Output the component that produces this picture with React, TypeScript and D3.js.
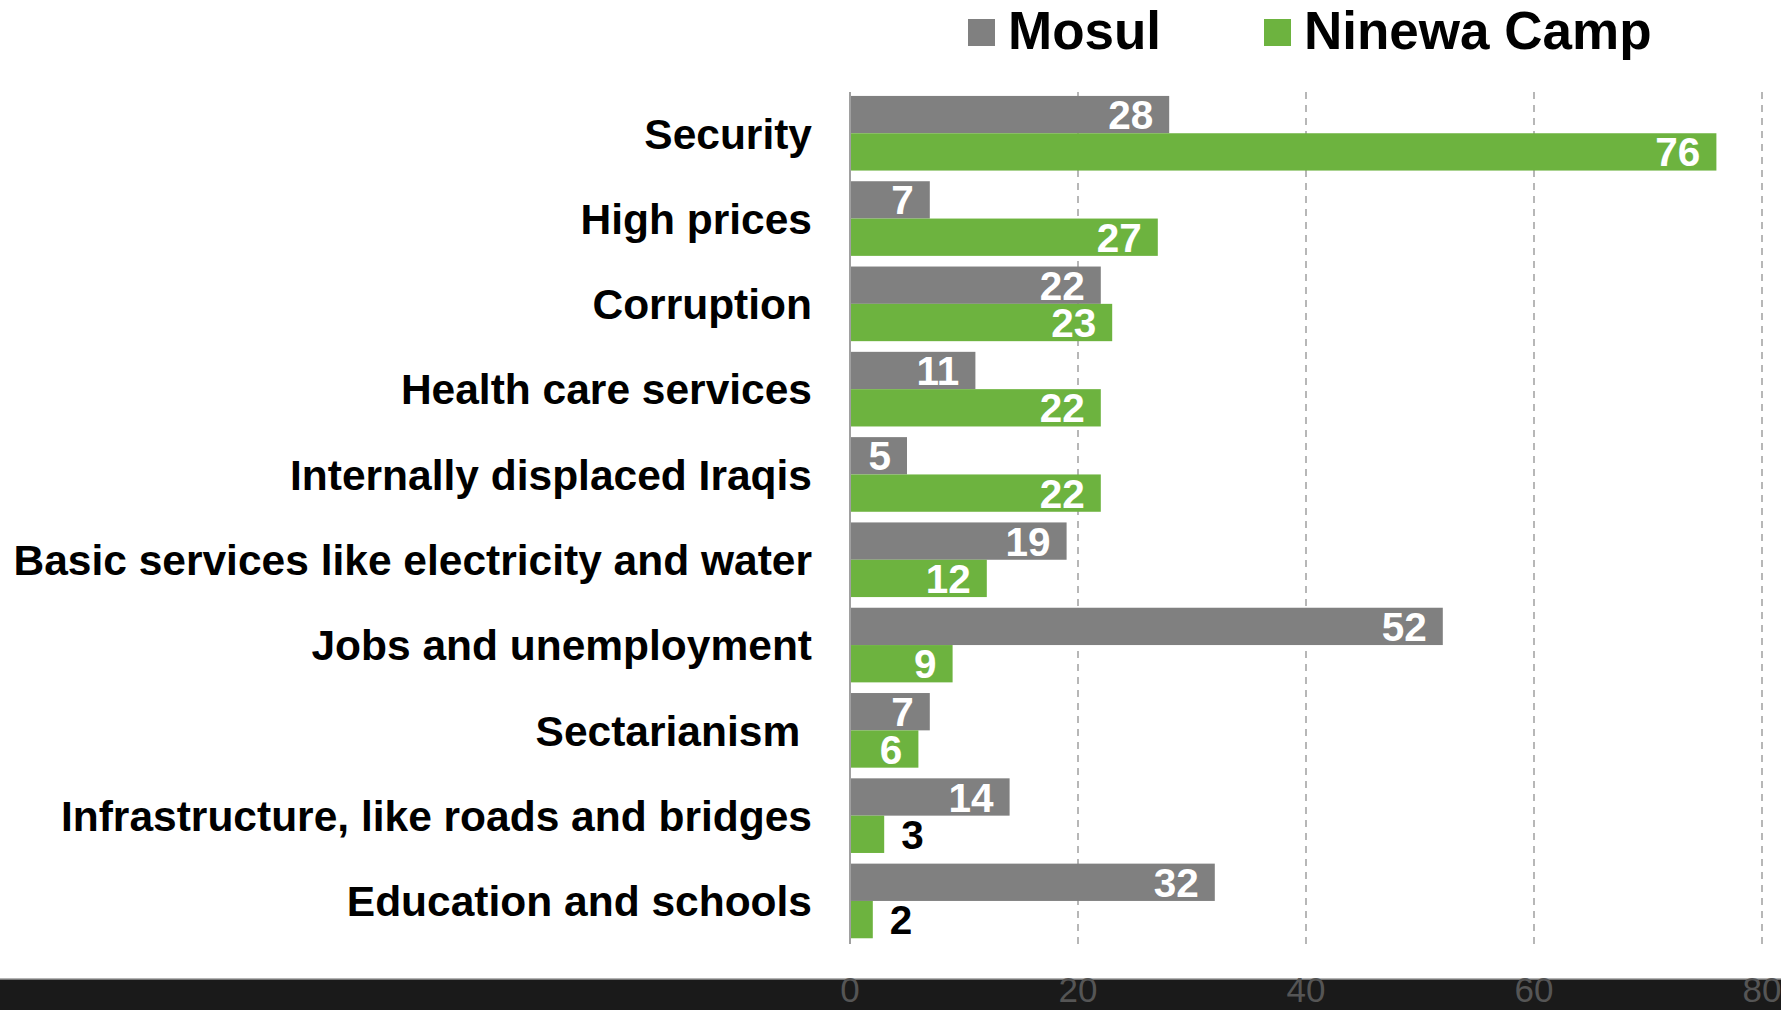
import React from "react";
import * as d3 from "d3";

const categories = [
  "Security",
  "High prices",
  "Corruption",
  "Health care services",
  "Internally displaced Iraqis",
  "Basic services like electricity and water",
  "Jobs and unemployment",
  "Sectarianism ",
  "Infrastructure, like roads and bridges",
  "Education and schools",
];
const mosul = [28, 7, 22, 11, 5, 19, 52, 7, 14, 32];
const ninewa = [76, 27, 23, 22, 22, 12, 9, 6, 3, 2];
const seriesNames = ["Mosul", "Ninewa Camp"];
const seriesColors = ["#808080", "#6db33f"];
const xTicks = [0, 20, 40, 60, 80];

const W = 1781;
const H = 1010;
const FONT = "'Liberation Sans', Arial, sans-serif";

export default function App() {
  const x = d3.scaleLinear().domain([0, 80]).range([850, 1762]);
  const y = d3
    .scaleBand<string>()
    .domain(categories)
    .range([90.6, 943.6])
    .paddingInner(0.125)
    .paddingOuter(0.0625);
  const sub = d3
    .scaleBand<string>()
    .domain(seriesNames)
    .range([0, y.bandwidth()]);

  const series = [mosul, ninewa];

  return (
    <svg
      width={W}
      height={H}
      style={{ position: "absolute", left: 0, top: 0, background: "#fff" }}
      fontFamily={FONT}
    >
      <rect x={0} y={0} width={W} height={H} fill="#fff" />
      {/* gridlines */}
      {xTicks.slice(1).map((t) => (
        <line
          key={t}
          x1={x(t)}
          x2={x(t)}
          y1={92}
          y2={944}
          stroke="#a6a6a6"
          strokeWidth={1.6}
          strokeDasharray="7,6"
        />
      ))}
      {/* bars */}
      {categories.map((c, i) => (
        <g key={c}>
          {series.map((vals, s) => {
            const v = vals[i];
            const by = (y(c) as number) + (sub(seriesNames[s]) as number);
            const bh = sub.bandwidth();
            const bw = x(v) - x(0);
            const inside = bw >= 40;
            return (
              <g key={s}>
                <rect
                  x={x(0)}
                  y={by}
                  width={bw}
                  height={bh}
                  fill={seriesColors[s]}
                />
                <text
                  x={inside ? x(v) - 16 : x(v) + 17}
                  y={by + bh / 2}
                  dy="0.36em"
                  textAnchor={inside ? "end" : "start"}
                  fontSize={40.5}
                  fontWeight="bold"
                  fill={inside ? "#fff" : "#000"}
                >
                  {v}
                </text>
              </g>
            );
          })}
          <text
            x={812}
            y={(y(c) as number) + y.bandwidth() / 2}
            dy="0.36em"
            textAnchor="end"
            fontSize={42.5}
            fontWeight="bold"
            fill="#000"
            style={{ whiteSpace: "pre" }}
          >
            {c}
          </text>
        </g>
      ))}
      {/* axis line */}
      <line x1={850} x2={850} y1={92} y2={944} stroke="#a0a0a0" strokeWidth={2} />
      {/* dark bottom band */}
      <rect x={0} y={979} width={W} height={H - 979} fill="#1a1a1a" />
      <line x1={0} x2={W} y1={979} y2={979} stroke="#9a9a9a" strokeWidth={1.5} />
      {xTicks.map((t) => (
        <text
          key={t}
          x={x(t)}
          y={989}
          dy="0.36em"
          textAnchor="middle"
          fontSize={35}
          fill="#555"
        >
          {t}
        </text>
      ))}
      {/* legend */}
      {seriesNames.map((n, s) => {
        const lx = s === 0 ? 968 : 1264;
        return (
          <g key={n}>
            <rect x={lx} y={19} width={27} height={27} fill={seriesColors[s]} />
            <text
              x={lx + 40}
              y={30}
              dy="0.36em"
              fontSize={53}
              fontWeight="bold"
              fill="#000"
            >
              {n}
            </text>
          </g>
        );
      })}
    </svg>
  );
}
